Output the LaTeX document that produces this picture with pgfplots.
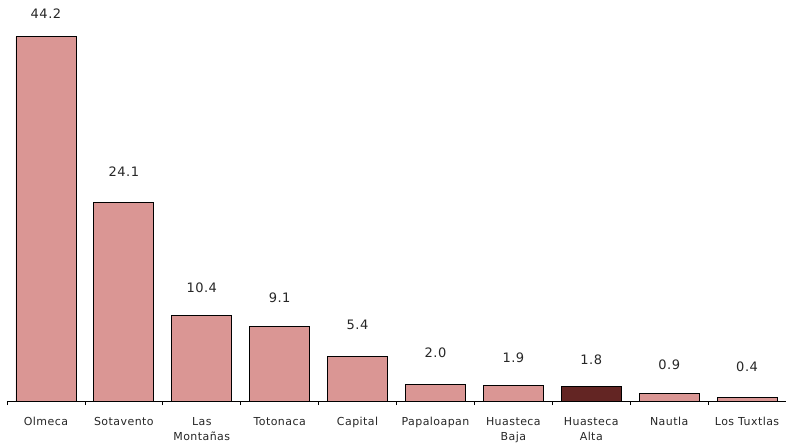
\documentclass[border=0pt]{standalone}
\usepackage{fontspec}
\setmainfont{DejaVu Sans}[LetterSpace=4]
\usepackage{pgfplots}
\usepackage{pgfplotstable}
\pgfplotsset{compat=1.18}
\definecolor{barpink}{HTML}{DA9694}
\definecolor{bardark}{HTML}{632523}

% regional shares, Huasteca Alta highlighted
\pgfplotstableread{
x y
0 44.2
1 24.1
2 10.4
3 9.1
4 5.4
5 2.0
6 1.9
8 0.9
9 0.4
}\pinkbars
\pgfplotstableread{
x y
7 1.8
}\darkbar
% value labels, placed above the bars
\pgfplotstableread{
x y lab
0 47.0 44.2
1 27.8 24.1
2 13.7 10.4
3 12.5 9.1
4 9.2 5.4
5 5.8 2.0
6 5.3 1.9
7 5.0 1.8
8 4.4 0.9
9 4.1 0.4
}\labels

\begin{document}
\begin{tikzpicture}
\useasboundingbox (0,0) rectangle (786pt,442pt);
\begin{axis}[
    at={(7pt,41pt)}, anchor=south west,
    scale only axis, width=779pt, height=401pt,
    xmin=-0.5, xmax=9.5, ymin=0, ymax=48.67,
    axis x line*=bottom, axis y line=none,
    axis line style={black, line width=1pt},
    xtick={0,...,9},
    xticklabels={Olmeca, Sotavento, {Las\\Montañas}, Totonaca, Capital,
      Papaloapan, {Huasteca\\Baja}, {Huasteca\\Alta}, Nautla, Los Tuxtlas},
    minor xtick={-0.5,0.5,...,9.5},
    major tick length=0pt, minor tick length=4pt, tick align=outside,
    tick style={black, line width=0.8pt},
    xticklabel style={align=center, anchor=north, yshift=-13pt,
      font=\fontsize{11}{14.5}\selectfont, text=black!85},
    clip=false,
]
\addplot[ybar, bar width=60pt, bar shift=0pt, fill=barpink, draw=black, line width=0.8pt]
  table[x=x, y=y] {\pinkbars};
\addplot[ybar, bar width=60pt, bar shift=0pt, fill=bardark, draw=black, line width=0.8pt]
  table[x=x, y=y] {\darkbar};
\addplot[draw=none, mark=none, nodes near coords, point meta=explicit symbolic,
    nodes near coords style={anchor=center, font=\fontsize{13}{15}\selectfont, text=black!85}]
  table[x=x, y=y, meta=lab] {\labels};
\end{axis}
\end{tikzpicture}
\end{document}
